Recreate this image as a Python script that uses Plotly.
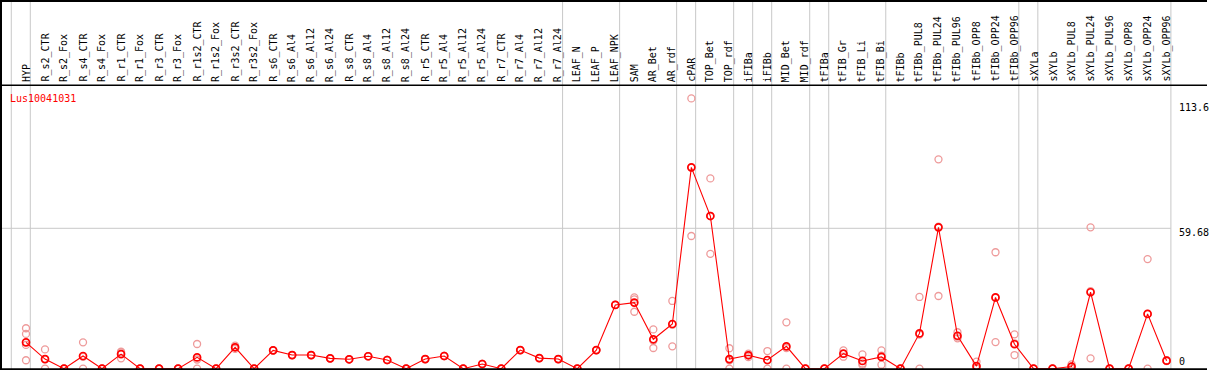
import plotly.graph_objects as go

categories = ["HYP", "R_s2_CTR", "R_s2_Fox", "R_s4_CTR", "R_s4_Fox", "R_r1_CTR", "R_r1_Fox",
              "R_r3_CTR", "R_r3_Fox", "R_r1s2_CTR", "R_r1s2_Fox", "R_r3s2_CTR", "R_r3s2_Fox",
              "R_s6_CTR", "R_s6_Al4", "R_s6_Al12", "R_s6_Al24", "R_s8_CTR", "R_s8_Al4",
              "R_s8_Al12", "R_s8_Al24", "R_r5_CTR", "R_r5_Al4", "R_r5_Al12", "R_r5_Al24",
              "R_r7_CTR", "R_r7_Al4", "R_r7_Al12", "R_r7_Al24", "LEAF_N", "LEAF_P", "LEAF_NPK",
              "SAM", "AR_Bet", "AR_rdf", "cPAR", "TOP_Bet", "TOP_rdf", "iFIBa", "iFIBb",
              "MID_Bet", "MID_rdf", "tFIBa", "tFIB_Gr", "tFIB_Li", "tFIB_Bi", "tFIBb",
              "tFIBb_PUL8", "tFIBb_PUL24", "tFIBb_PUL96", "tFIBb_OPP8", "tFIBb_OPP24",
              "tFIBb_OPP96", "sXYLa", "sXYLb", "sXYLb_PUL8", "sXYLb_PUL24", "sXYLb_PUL96",
              "sXYLb_OPP8", "sXYLb_OPP24", "sXYLb_OPP96"]

mean_values = [11.2, 4.1, 0, 5.4, 0, 6.2, 0, 0, 0, 4.8, 0, 9.1, 0,
               7.8, 5.8, 5.8, 4.4, 4.0, 5.3, 3.7, 0, 4.1, 5.4, 0, 2.0,
               0, 7.9, 4.5, 4.1, 0, 7.9, 27.1, 28.1, 12.5, 19.0, 85.6, 64.9,
               4.1, 5.7, 3.7, 9.5, 0, 0, 6.4, 3.3, 5.0, 0, 15.0, 60.1, 14.0,
               1.1, 30.3, 10.4, 0, 0, 0.9, 32.5, 0, 0, 23.3, 3.4]

rep_a = [17.2, 8.2, 0, 11.2, 0, 7.2, 0, 0, 0, 10.5, 0, 9.8, 0,
         7.8, 5.8, 5.8, 4.4, 4.0, 5.3, 3.7, 0, 4.1, 5.4, 0, 2.0,
         0, 7.9, 4.5, 4.1, 0, 7.9, 27.1, 30.3, 16.7, 28.8, 114.9, 80.9,
         8.7, 6.4, 7.5, 19.7, 0, 0, 7.8, 6.1, 7.8, 0, 30.5, 89.0, 15.5,
         3.0, 49.5, 14.6, 0, 0, 1.8, 60.1, 0, 0, 46.6, 3.6]
rep_b = [14.8, 0, 0, 0, 0, 4.4, 0, 0, 0, 0, 0, 9.1, 0,
         7.8, 5.8, 5.8, 4.4, 4.0, 5.3, 3.7, 0, 4.1, 5.4, 0, 2.0,
         0, 7.9, 4.5, 4.1, 0, 7.9, 27.1, 29.5, 8.8, 9.5, 56.4, 48.8,
         0, 4.9, 0, 0, 0, 0, 5.1, 1.6, 1.7, 0, 0, 30.9, 12.9,
         0, 11.3, 5.8, 0, 0, 0, 4.4, 0, 0, 0, 3.2]
rep_c = [10.1, 4.1, 0, 5.0, 0, 7.0, 0, 0, 0, 3.9, 0, 8.4, 0,
         7.8, 5.8, 5.8, 4.4, 4.0, 5.3, 3.7, 0, 4.1, 5.4, 0, 2.0,
         0, 7.9, 4.5, 4.1, 0, 7.9, 27.1, 24.2, 12.0, 18.7, 85.5, 65.0,
         3.6, 5.8, 3.6, 8.8, 0, 0, 6.3, 2.2, 5.5, 0, 14.5, 60.4, 13.6,
         0.3, 30.1, 10.8, 0, 0, 0.9, 33.0, 0, 0, 23.3, 3.4]
rep_d = [3.6] + [None] * 60

group_boundaries = [-1, 0, 28, 31, 34, 35, 37, 38, 39, 41, 42, 45, 52, 53, 60]
y_ticks = [0, 59.68, 113.6]
y_tick_text = ["0", "59.68", "113.6"]
gene_name = "Lus10041031"

W, H = 1209, 370
TOP, BOT = 85, 1
plot_h = H - TOP - BOT


def py(px):
    return (H - BOT - px) / plot_h


xs = list(range(len(categories)))
rx, ry = [], []
for rep in (rep_a, rep_b, rep_c, rep_d):
    for i, v in enumerate(rep):
        if v is not None:
            rx.append(i)
            ry.append(v)

fig = go.Figure()
fig.add_trace(go.Scatter(
    x=rx, y=ry, mode="markers",
    marker=dict(symbol="circle-open", size=7, color="#EE9A9A", line=dict(width=1.3, color="#EE9A9A")),
    hoverinfo="skip", showlegend=False))
fig.add_trace(go.Scatter(
    x=xs, y=mean_values, mode="lines+markers",
    line=dict(color="#FF0000", width=1.1),
    marker=dict(symbol="circle-open", size=7, color="#FF0000", line=dict(width=1.7, color="#FF0000")),
    showlegend=False))

FONT = "DejaVu Sans Mono"
shapes = []
off = 0.226
for b in group_boundaries:
    shapes.append(dict(type="line", xref="x", yref="paper", x0=b + off, x1=b + off,
                       y0=-0.01, y1=py(0), line=dict(color="#C8C8C8", width=1), layer="below"))
shapes.append(dict(type="line", xref="x", yref="y", x0=-1.5, x1=60 + off, y0=59.68, y1=59.68,
                   line=dict(color="#C8C8C8", width=1), layer="below"))
# black frame lines
shapes.append(dict(type="line", xref="paper", yref="paper", x0=0, x1=1207 / W, y0=py(1), y1=py(1),
                   line=dict(color="black", width=2)))
shapes.append(dict(type="line", xref="paper", yref="paper", x0=0, x1=1207 / W, y0=py(85.2), y1=py(85.2),
                   line=dict(color="black", width=1.6)))
shapes.append(dict(type="line", xref="paper", yref="paper", x0=0, x1=1207 / W, y0=py(369.2), y1=py(369.2),
                   line=dict(color="black", width=2)))
shapes.append(dict(type="line", xref="paper", yref="paper", x0=1 / W, x1=1 / W, y0=-0.01, y1=py(0),
                   line=dict(color="black", width=2)))

annotations = []
for i, c in enumerate(categories):
    annotations.append(dict(x=i, y=py(83), xref="x", yref="paper", text=c, textangle=-90,
                            showarrow=False, xanchor="center", yanchor="bottom",
                            font=dict(family=FONT, size=10, color="black"), borderpad=0))
annotations.append(dict(x=9 / W, y=py(98), xref="paper", yref="paper", text=gene_name,
                        showarrow=False, xanchor="left", yanchor="middle",
                        font=dict(family=FONT, size=10, color="#FF0000"), borderpad=0))
label_y = {"0": 361.7, "59.68": 232.3, "113.6": 107}
for t in y_tick_text:
    annotations.append(dict(x=1177.5 / W, y=py(label_y[t]), xref="paper", yref="paper", text=t,
                            showarrow=False, xanchor="left", yanchor="middle",
                            font=dict(family=FONT, size=10, color="black"), borderpad=0))

x0 = -26 / 19.01
x1 = (W - 26) / 19.01
fig.update_layout(
    width=W, height=H, autosize=False,
    margin=dict(l=0, r=0, t=TOP, b=BOT, pad=0),
    paper_bgcolor="white", plot_bgcolor="white",
    xaxis=dict(range=[x0, x1], showgrid=False, zeroline=False, showticklabels=False, showline=False),
    yaxis=dict(range=[-0.13, 120.6], showgrid=False, zeroline=False, showticklabels=False, showline=False),
    shapes=shapes, annotations=annotations, showlegend=False,
)
fig.write_html("out.html", config={"displayModeBar": False},
               post_script="document.body.style.margin='0';document.body.style.padding='0';document.body.style.overflow='hidden';")
